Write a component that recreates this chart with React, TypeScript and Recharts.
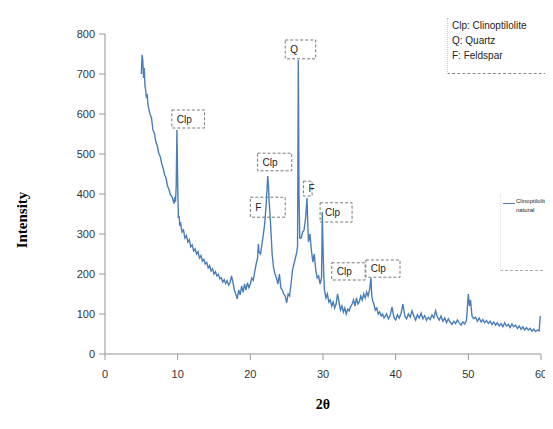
import React from 'react';
import { LineChart, Line, XAxis, YAxis, ReferenceArea } from 'recharts';

// XRD pattern, split into angle ranges: [2theta, counts]
const lowAngle: [number, number][] = [
  [5.0, 700], [5.1, 748], [5.2, 735], [5.3, 690], [5.4, 715], [5.5, 670], [5.6, 660], [5.7, 640],
  [5.8, 650], [5.9, 625], [6.0, 615], [6.2, 600], [6.4, 590], [6.6, 560], [6.8, 552], [7.0, 530],
  [7.2, 520], [7.4, 502], [7.6, 494], [7.8, 476], [8.0, 465], [8.2, 448], [8.4, 440], [8.6, 420],
  [8.8, 412], [9.0, 398], [9.2, 394], [9.4, 382], [9.5, 376], [9.6, 392], [9.7, 380], [9.8, 420],
  [9.9, 560], [10.0, 430], [10.1, 340], [10.2, 345], [10.3, 320], [10.4, 330], [10.5, 315],
  [10.6, 305], [10.8, 310], [11.0, 290], [11.2, 296], [11.4, 280], [11.6, 286], [11.8, 268],
  [12.0, 273], [12.2, 258], [12.4, 263], [12.6, 250], [12.8, 256], [13.0, 240], [13.2, 246],
  [13.4, 232], [13.6, 237], [13.8, 225], [14.0, 229], [14.2, 215], [14.4, 221], [14.6, 208],
  [14.8, 213], [15.0, 200], [15.2, 206], [15.4, 195], [15.6, 199], [15.8, 188], [16.0, 191],
  [16.2, 180], [16.4, 186], [16.6, 176], [16.8, 183], [17.0, 172], [17.2, 178], [17.4, 195],
  [17.6, 180], [17.8, 160], [18.0, 150], [18.2, 138], [18.4, 160], [18.6, 148], [18.8, 170],
  [19.0, 154], [19.2, 175], [19.4, 160], [19.6, 178], [19.8, 166], [20.0, 175],
];

const midAngle: [number, number][] = [
  [20.2, 190], [20.4, 184], [20.6, 205], [20.8, 225], [21.0, 240], [21.1, 275], [21.2, 255],
  [21.4, 250], [21.6, 275], [21.8, 300], [22.0, 330], [22.2, 380], [22.4, 445], [22.5, 420],
  [22.6, 380], [22.8, 320], [23.0, 250], [23.2, 215], [23.4, 200], [23.6, 190], [23.8, 175],
  [24.0, 200], [24.2, 165], [24.4, 160], [24.6, 150], [24.8, 145], [25.0, 128], [25.2, 150],
  [25.4, 145], [25.6, 175], [25.8, 210], [26.0, 225], [26.2, 240], [26.4, 255], [26.5, 270],
  [26.6, 735], [26.7, 400], [26.8, 290], [27.0, 290], [27.2, 305], [27.4, 310], [27.6, 340],
  [27.8, 390], [27.9, 330], [28.0, 280], [28.2, 300], [28.4, 260], [28.6, 230], [28.8, 250],
  [29.0, 210], [29.2, 190], [29.4, 195], [29.6, 175], [29.8, 190], [29.9, 355], [30.0, 270],
  [30.1, 200], [30.2, 160], [30.4, 140], [30.6, 150], [30.8, 130], [31.0, 135], [31.2, 120],
  [31.4, 130], [31.6, 115], [31.8, 125], [32.0, 150], [32.2, 130], [32.4, 110], [32.6, 120],
  [32.8, 105], [33.0, 115], [33.2, 100], [33.4, 112], [33.6, 108], [33.8, 118], [34.0, 125],
  [34.2, 135], [34.4, 120], [34.6, 140], [34.8, 125], [35.0, 130], [35.2, 145], [35.4, 135],
  [35.6, 150], [35.8, 140], [36.0, 155], [36.2, 145], [36.4, 160], [36.6, 190], [36.7, 150],
  [36.8, 135], [37.0, 125], [37.2, 110], [37.4, 115], [37.6, 100], [37.8, 105], [38.0, 95],
  [38.2, 100], [38.4, 90],
];

const highAngle: [number, number][] = [
  [38.5, 92], [38.75, 100], [39.0, 88], [39.25, 96], [39.5, 118], [39.75, 92], [40.0, 85],
  [40.25, 98], [40.5, 90], [40.75, 102], [41.0, 125], [41.25, 95], [41.5, 88], [41.75, 100],
  [42.0, 92], [42.25, 108], [42.5, 95], [42.75, 85], [43.0, 98], [43.25, 90], [43.5, 102],
  [43.75, 88], [44.0, 96], [44.25, 84], [44.5, 92], [44.75, 86], [45.0, 98], [45.25, 90],
  [45.5, 108], [45.75, 92], [46.0, 85], [46.25, 95], [46.5, 82], [46.75, 90], [47.0, 78],
  [47.25, 88], [47.5, 80], [47.75, 74], [48.0, 82], [48.25, 76], [48.5, 85], [48.75, 78],
  [49.0, 72], [49.25, 80], [49.5, 75], [49.75, 85], [50.0, 150], [50.15, 120], [50.3, 135],
  [50.5, 95], [50.75, 88], [51.0, 92], [51.25, 82], [51.5, 90], [51.75, 80], [52.0, 86],
  [52.25, 78], [52.5, 84], [52.75, 76], [53.0, 82], [53.25, 74], [53.5, 80], [53.75, 72],
  [54.0, 78], [54.25, 70], [54.5, 76], [54.75, 68], [55.0, 78], [55.25, 70], [55.5, 74],
  [55.75, 66], [56.0, 75], [56.25, 68], [56.5, 72], [56.75, 64], [57.0, 70], [57.25, 62],
  [57.5, 68], [57.75, 60], [58.0, 66], [58.25, 60], [58.5, 64], [58.75, 57], [59.0, 62],
  [59.25, 56], [59.5, 60], [59.75, 58], [59.9, 95],
];

const xTicks = [0, 10, 20, 30, 40, 50, 60];
const yTicks = [0, 100, 200, 300, 400, 500, 600, 700, 800];

// peak label boxes (2theta range, counts range)
const peakLabels = [
  { text: 'Clp', x1: 9.2, x2: 13.7, y1: 565, y2: 610 },
  { text: 'Q', x1: 24.8, x2: 29.0, y1: 738, y2: 785 },
  { text: 'Clp', x1: 21.0, x2: 25.7, y1: 458, y2: 502 },
  { text: 'F', x1: 20.0, x2: 24.8, y1: 342, y2: 392 },
  { text: 'F', x1: 27.3, x2: 28.5, y1: 395, y2: 432 },
  { text: 'Clp', x1: 29.6, x2: 34.0, y1: 330, y2: 378 },
  { text: 'Clp', x1: 31.2, x2: 35.8, y1: 185, y2: 228 },
  { text: 'Clp', x1: 35.9, x2: 40.6, y1: 192, y2: 235 },
];

const data = [...lowAngle, ...midAngle, ...highAngle].map(([angle, counts]) => ({ angle, counts }));

const tickStyle = { fontSize: 11, fill: '#333', fontFamily: 'Liberation Sans Narrow, Liberation Sans, sans-serif' };

export default function App() {
  return (
    <div style={{ position: 'relative', width: 553, height: 429, margin: -8, background: '#fff', overflow: 'hidden' }}>
      <LineChart width={553} height={429} data={data} margin={{ top: 34, right: 12, bottom: 45, left: 0 }}>
        <XAxis
          dataKey="angle"
          type="number"
          domain={[0, 60]}
          ticks={xTicks}
          height={30}
          tick={tickStyle}
          tickMargin={10}
          axisLine={{ stroke: '#c8c8c8', strokeWidth: 2 }}
          tickLine={{ stroke: '#999' }}
        />
        <YAxis
          domain={[0, 800]}
          ticks={yTicks}
          width={105}
          tick={tickStyle}
          tickMargin={4}
          axisLine={{ stroke: '#c8c8c8', strokeWidth: 2 }}
          tickLine={{ stroke: '#999' }}
        />
        <Line
          dataKey="counts"
          stroke="#4a7ebb"
          strokeWidth={1.4}
          dot={false}
          isAnimationActive={false}
        />
        {peakLabels.map((p, i) => (
          <ReferenceArea
            key={i}
            x1={p.x1}
            x2={p.x2}
            y1={p.y1}
            y2={p.y2}
            fill="#fff"
            fillOpacity={0.85}
            stroke="#777"
            strokeDasharray="3 2"
            label={{ value: p.text, position: 'insideLeft', fontSize: 10, fill: '#222', fontFamily: 'Liberation Sans Narrow, sans-serif' }}
          />
        ))}
      </LineChart>

      {/* mineral key, top right */}
      <div style={{
        position: 'absolute', left: 447, top: 18, width: 104, height: 55,
        borderBottom: '1px dashed #888', borderLeft: '1px dotted #ccc', borderRight: '1px dotted #ccc',
        fontFamily: 'Liberation Sans Narrow, sans-serif', fontSize: 10, lineHeight: '15px', color: '#222', paddingLeft: 4,
      }}>
        <div>Clp: Clinoptilolite</div>
        <div>Q: Quartz</div>
        <div>F: Feldspar</div>
      </div>

      {/* series legend */}
      <div style={{
        position: 'absolute', left: 500, top: 194, width: 52, height: 76,
        borderBottom: '1px dashed #aaa', borderLeft: '1px dotted #ddd',
        fontFamily: 'Liberation Sans, sans-serif', fontSize: 6, lineHeight: '9px', color: '#222',
      }}>
        <div style={{ position: 'absolute', left: 2, top: 9, width: 12, borderTop: '1.5px solid #4a7ebb' }} />
        <div style={{ position: 'absolute', left: 15, top: 3, whiteSpace: 'nowrap' }}>Clinoptilolite<br />natural</div>
      </div>

      <div style={{
        position: 'absolute', left: 22, top: 220, transform: 'translate(-50%, -50%) rotate(-90deg)',
        fontFamily: 'Liberation Serif, serif', fontWeight: 'bold', fontSize: 15, whiteSpace: 'nowrap',
      }}>
        Intensity
      </div>
      <div style={{
        position: 'absolute', left: 323, top: 405, transform: 'translate(-50%, -50%)',
        fontFamily: 'Liberation Serif, serif', fontWeight: 'bold', fontSize: 14,
      }}>
        2θ
      </div>
    </div>
  );
}
